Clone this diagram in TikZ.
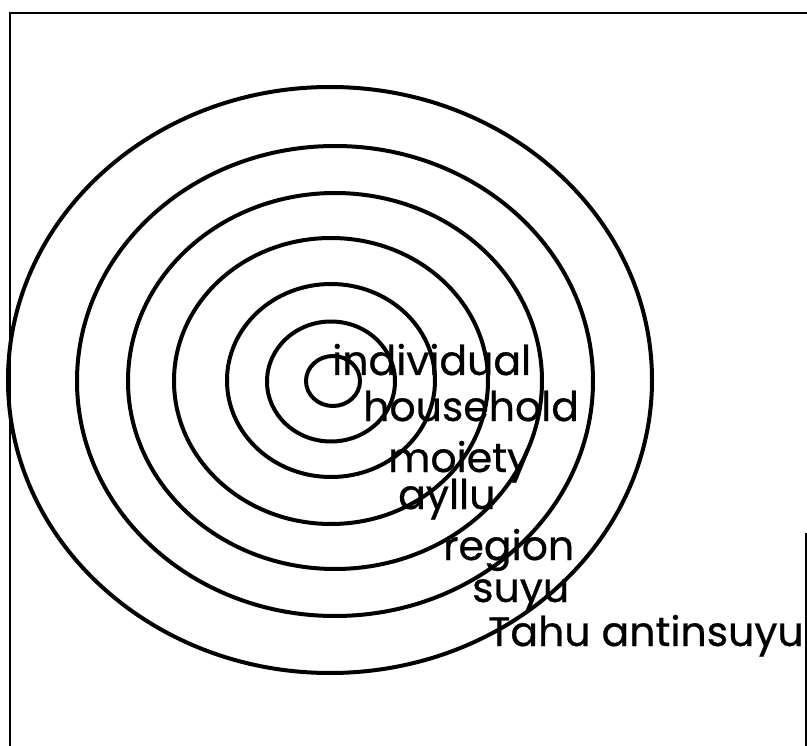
\documentclass[tikz,border=0pt]{standalone}
\usepackage{fontspec}
\setmainfont{Poppins}
\newfontfamily\lblfont{Poppins}[FakeBold=0.6]
\begin{document}
\begin{tikzpicture}[x=1pt,y=-1pt,
  ring/.style={line width=4pt},
  frameline/.style={line width=2.6pt},
  lbl/.style={anchor=base west, inner sep=0pt, font=\lblfont\fontsize{41}{41}\selectfont}]
\useasboundingbox (0,0) rectangle (807,746);
% frame
\coordinate (fbl) at (10,746);
\coordinate (ftl) at (10,13);
\coordinate (ftr) at (807,13);
\coordinate (frt) at (806,533);
\coordinate (frb) at (806,746);
\draw[frameline] (fbl) -- (ftl) -- (ftr);
\draw[frameline] (frt) -- (frb);
% rings
\draw[ring] (333,381) ellipse [x radius=27pt, y radius=25pt];
\draw[ring] (331,381.5) ellipse [x radius=64pt, y radius=60pt];
\draw[ring] (331,380.5) ellipse [x radius=104pt, y radius=96.5pt];
\draw[ring] (331,381) ellipse [x radius=157pt, y radius=143pt];
\draw[ring] (335,381) ellipse [x radius=207pt, y radius=188pt];
\draw[ring] (335,381) ellipse [x radius=258pt, y radius=235pt];
\draw[ring] (330,380) ellipse [x radius=322pt, y radius=293pt];
% labels
\node[lbl] (ind) at (332,375) {individual};
\node[lbl] (hou) at (363,421) {household};
\node[lbl] (moi) at (388,472) {moiety};
\node[lbl] (ayl) at (398,509) {ayllu};
\node[lbl] (reg) at (443,560) {region};
\node[lbl] (suy) at (472,602) {suyu};
\node[lbl] (tah) at (488,646) {Tahu antinsuyu};
\end{tikzpicture}
\end{document}
